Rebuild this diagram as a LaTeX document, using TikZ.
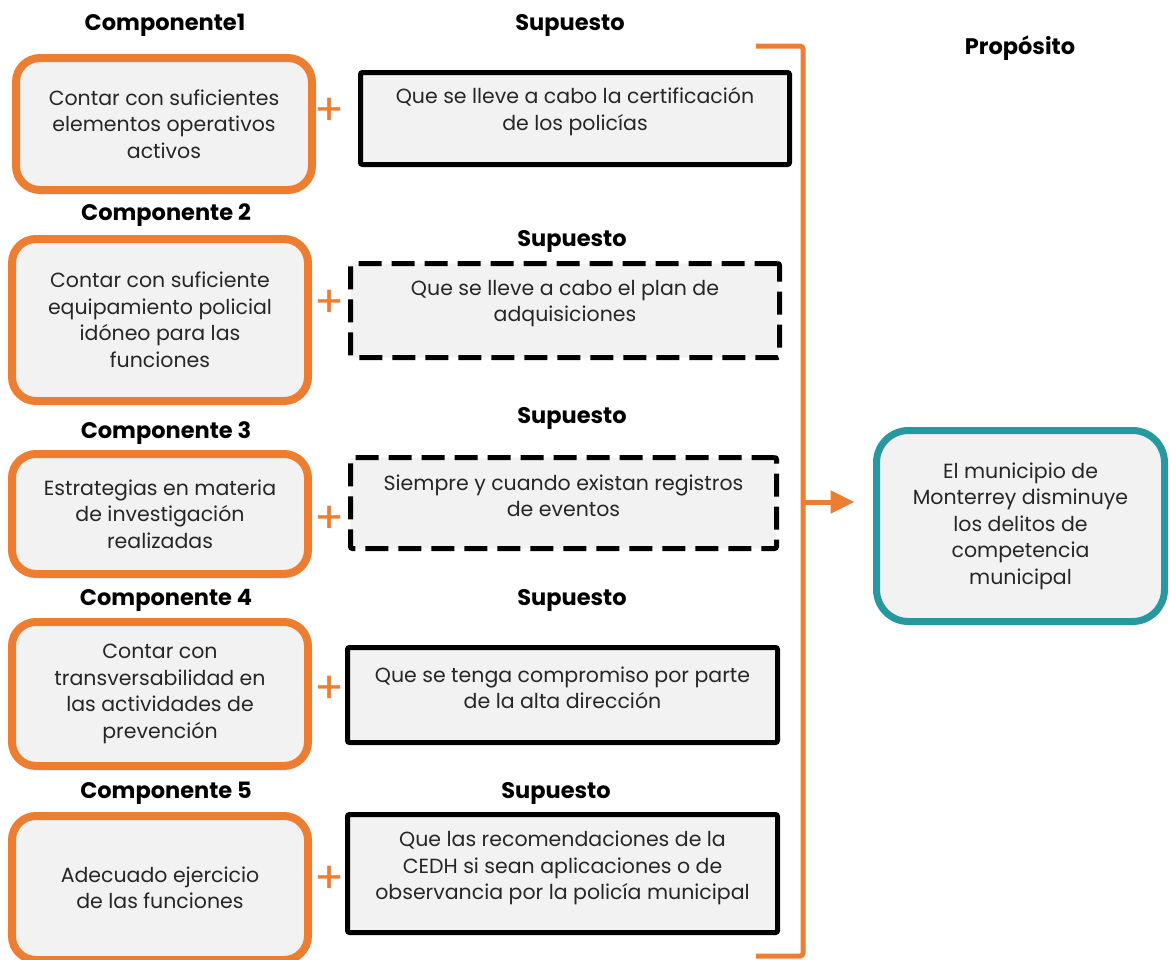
\documentclass[tikz,border=0pt]{standalone}
\usepackage{fontspec}
\setmainfont{Poppins}
\usetikzlibrary{arrows.meta}

\definecolor{naranja}{RGB}{237,125,49}
\definecolor{turquesa}{RGB}{38,152,160}
\definecolor{relleno}{RGB}{242,242,242}

\tikzset{
    cuerpo/.style={align=center, font=\fontsize{20.5}{26.5}\selectfont, text=black!85},
    compbox/.style={cuerpo, draw=naranja, line width=8pt, fill=relleno, rounded corners=24pt, minimum width=296pt, inner sep=2pt},
    supbox/.style={draw=black, line width=5pt, fill=relleno, rounded corners=2pt},
    supdash/.style={supbox, dash pattern=on 23pt off 10pt},
    suptext/.style={cuerpo, yshift=7pt},
    propbox/.style={cuerpo, draw=turquesa, line width=7pt, fill=relleno, rounded corners=32pt, minimum width=288pt, minimum height=191pt},
    titulo/.style={font=\bfseries\fontsize{22.5}{26}\selectfont},
    mas/.style={text=naranja, font=\fontsize{44}{44}\selectfont, inner sep=0pt},
    corchete/.style={draw=naranja, line width=5pt, rounded corners=3pt}
}

\begin{document}
\begin{tikzpicture}[x=1pt, y=-1pt]

        \useasboundingbox (0,0) rectangle (1169,959);

        \node (tit1) [titulo] at (165,25) {Componente1};
        \node (tit2) [titulo] at (166,215) {Componente 2};
        \node (tit3) [titulo] at (166,433) {Componente 3};
        \node (tit4) [titulo] at (166,600) {Componente 4};
        \node (tit5) [titulo] at (166,793) {Componente 5};

        \node (sup1tit) [titulo] at (570,25) {Supuesto};
        \node (sup2tit) [titulo] at (572,241) {Supuesto};
        \node (sup3tit) [titulo] at (572,418) {Supuesto};
        \node (sup4tit) [titulo] at (572,600) {Supuesto};
        \node (sup5tit) [titulo] at (556,793) {Supuesto};
        \node (proptit) [titulo] at (1020,48) {Propósito};

        \node (comp1) [compbox, minimum height=132pt] at (164,124) {Contar con suficientes\\elementos operativos\\activos};
        \node (comp2) [compbox, minimum height=162pt] at (160,320) {Contar con suficiente\\equipamiento policial\\idóneo para las\\funciones};
        \node (comp3) [compbox, minimum height=120pt] at (160,514) {Estrategias en materia\\de investigación\\realizadas};
        \node (comp4) [compbox, minimum height=144pt] at (160,694) {Contar con\\transversabilidad en\\las actividades de\\prevención};
        \node (comp5) [compbox, minimum height=144pt] at (160,888) {Adecuado ejercicio\\de las funciones};

        \node (mas1) [mas] at (330,112) {+};
        \node (mas2) [mas] at (330,304) {+};
        \node (mas3) [mas] at (330,520) {+};
        \node (mas4) [mas] at (330,690) {+};
        \node (mas5) [mas] at (330,880) {+};

        \node (sup1) [supbox, minimum width=429pt, minimum height=92pt] at (575,118.5) {};
        \node (sup2) [supdash, minimum width=429pt, minimum height=94pt] at (565,310.5) {};
        \node (sup3) [supdash, minimum width=426pt, minimum height=91pt] at (563.5,503) {};
        \node (sup4) [supbox, minimum width=430pt, minimum height=95pt] at (562.5,695) {};
        \node (sup5) [supbox, minimum width=430pt, minimum height=118pt] at (562.5,873.5) {};

        \node (sup1txt) [suptext] at (sup1) {Que se lleve a cabo la certificación\\de los policías};
        \node (sup2txt) [suptext] at (sup2) {Que se lleve a cabo el plan de\\adquisiciones};
        \node (sup3txt) [suptext] at (sup3) {Siempre y cuando existan registros\\de eventos};
        \node (sup4txt) [suptext] at (sup4) {Que se tenga compromiso por parte\\de la alta dirección};
        \node (sup5txt) [suptext, yshift=-1.5pt] at (sup5) {Que las recomendaciones de la\\CEDH si sean aplicaciones o de\\observancia por la policía municipal};

        \node (prop) [propbox] at (1020.5,526) {El municipio de\\Monterrey disminuye\\los delitos de\\competencia\\municipal};

        \coordinate (brtop) at (756,46);
        \coordinate (brbot) at (756,956);
        \coordinate (brmid) at (803,502);
        \draw [corchete] (brtop) -- (803,46) -- (803,956) -- (brbot);
        \draw [corchete, -{Triangle[length=24pt,width=22pt]}, shorten >=18.5pt] (brmid) -- (brmid -| prop.west);

\end{tikzpicture}
\end{document}
